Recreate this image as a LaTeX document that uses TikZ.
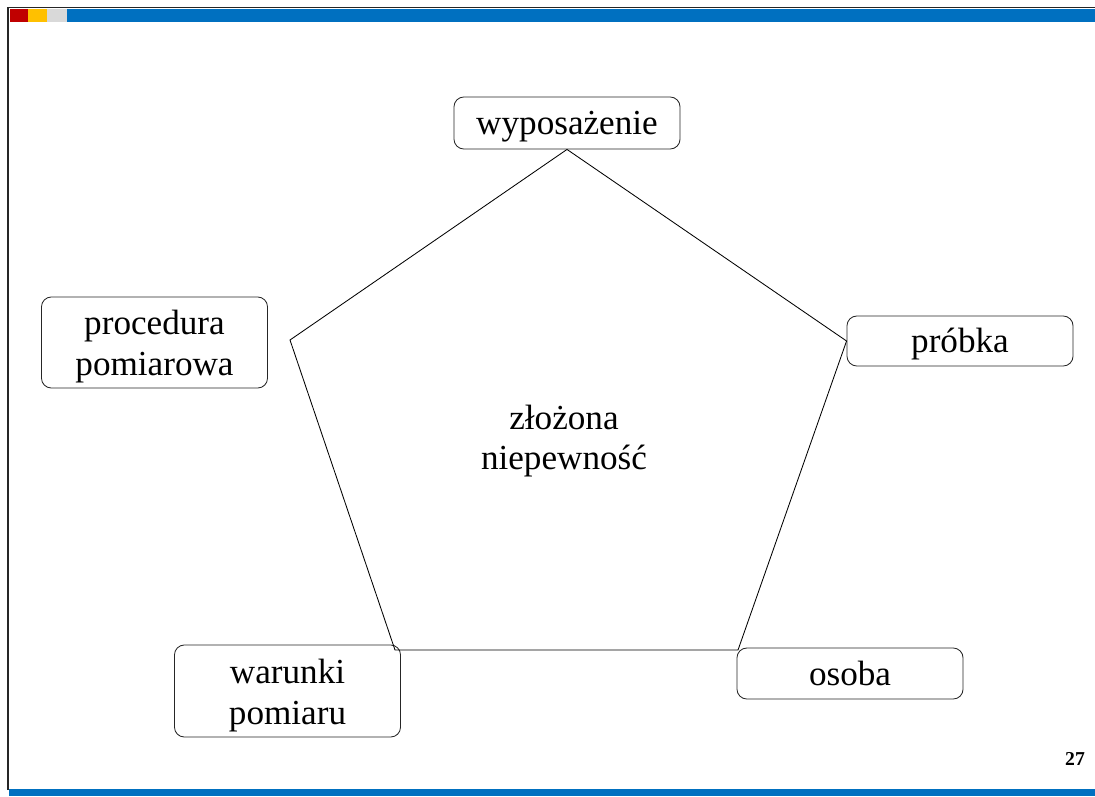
\documentclass[tikz,border=0pt]{standalone}
\usepackage{fontspec}
\setmainfont{Liberation Serif}
\usetikzlibrary{positioning}
\definecolor{barred}{HTML}{C00000}
\definecolor{baryellow}{HTML}{FFC000}
\definecolor{bargray}{HTML}{D9D9D9}
\definecolor{barblue}{HTML}{0070C0}
\tikzset{
  box/.style={rectangle,draw=black!85,line width=0.6pt,rounded corners=7pt,align=center,inner sep=0pt,minimum width=5.65cm,font=\fontsize{25}{29}\selectfont},
  onebox/.style={box,text height=20pt,text depth=3pt},
  twobox/.style={box,text height=48pt,text depth=1pt},
  label/.style={align=center,inner sep=0pt,font=\fontsize{25}{29}\selectfont},
  side/.style={draw,line width=0.6pt}
}

\begin{document}
\begin{tikzpicture}[x=0.025cm,y=-0.025cm]
\useasboundingbox (0,0) rectangle (1095,796);
% slide frame
\fill[barred] (10,9) rectangle (28,21.5);
\fill[baryellow] (28,9) rectangle (47,21.5);
\fill[bargray] (47,9) rectangle (67,21.5);
\fill[barblue] (67,9) rectangle (1095,21.5);
\fill[barblue] (9,789) rectangle (1095,796);
\draw[black!85,line width=1pt] (8,790) -- (8,7.5) -- (1095,7.5);
% boxes
\node[onebox, minimum height=1.3cm] (wyp) at (567,123) {wyposażenie};
\node[twobox, minimum height=2.275cm] (proc) at (154.5,342.5) {procedura\\pomiarowa};
\node[onebox, minimum height=1.25cm] (prob) at (960,341) {próbka};
\node[twobox, minimum height=2.3cm] (war) at (287.5,691) {warunki\\pomiaru};
\node[onebox, minimum height=1.275cm] (oso) at (850,673.5) {osoba};
\node[label] (mid) at (564,441) {złożona\\niepewność};
\node[font=\fontsize{14}{16}\selectfont\bfseries] (page) at (1075,759) {27};
% pentagon
\coordinate (lv) at (290,340);
\coordinate (rb) at (738,650);
\coordinate (lb) at (395,650);
\draw[side] (wyp.south) -- (prob.west) -- (rb) -- (lb) -- (lv) -- cycle;
\end{tikzpicture}
\end{document}
